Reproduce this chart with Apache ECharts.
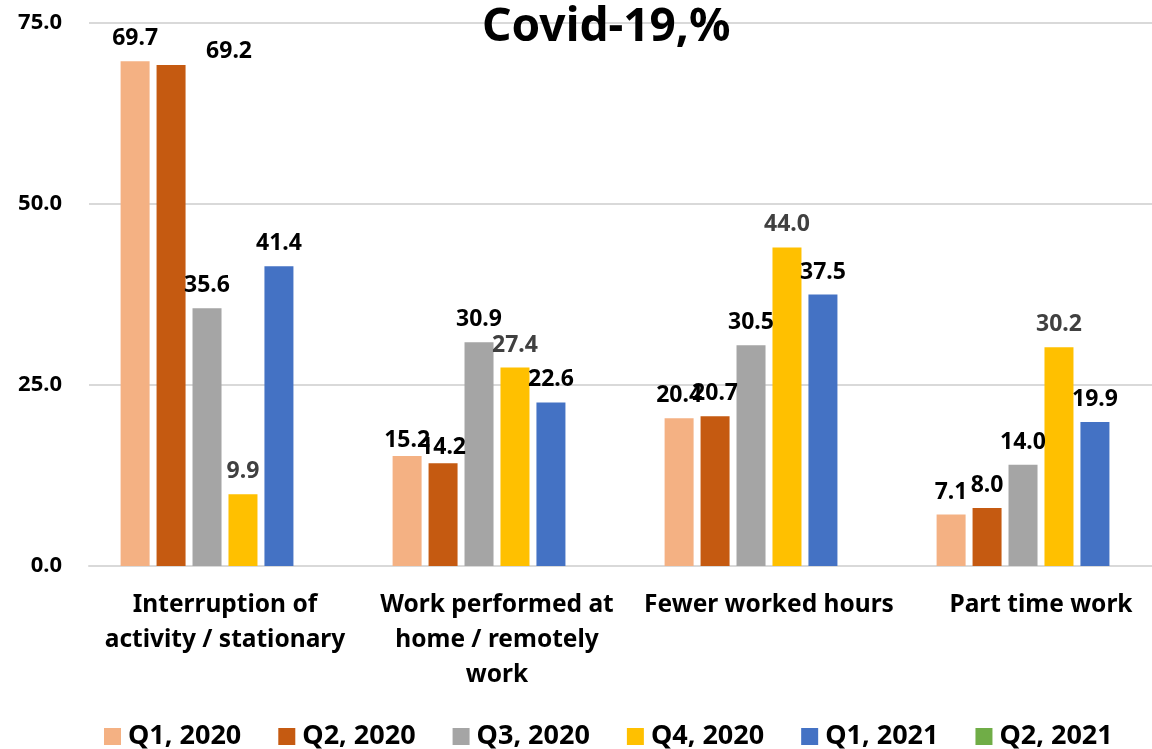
<!DOCTYPE html>
<html>
<head>
<meta charset="utf-8">
<script src="https://cdn.jsdelivr.net/npm/echarts@6/dist/echarts.min.js"></script>
<style>
  html, body { margin: 0; padding: 0; background: #fff; }
  #chart { width: 1152px; height: 749px; }
</style>
</head>
<body>
<div id="chart"></div>
<script>
// categories and series values
const categories = [
  "Interruption of\nactivity / stationary",
  "Work performed at\nhome / remotely\nwork",
  "Fewer worked hours",
  "Part time work"
];
const seriesNames = ["Q1, 2020", "Q2, 2020", "Q3, 2020", "Q4, 2020", "Q1, 2021", "Q2, 2021"];
const q1_2020 = [69.7, 15.2, 20.4, 7.1];
const q2_2020 = [69.2, 14.2, 20.7, 8.0];
const q3_2020 = [35.6, 30.9, 30.5, 14.0];
const q4_2020 = [9.9, 27.4, 44.0, 30.2];
const q1_2021 = [41.4, 22.6, 37.5, 19.9];
const q2_2021 = ["-", "-", "-", "-"]; // in the legend, no bars drawn
const yTicks = [0, 25, 50, 75];

const colors = ["#F4B183", "#C55A11", "#A5A5A5", "#FFC000", "#4472C4", "#70AD47"];
const labelColors = ["#000", "#000", "#000", "#404040", "#000", "#000"];
const FONT = "Noto Sans";

// some labels were moved by hand in the original
const labelOffsets = {
  "1-0": [58, 9],
  "0-1": [0, 7],
  "1-1": [0, 7]
};

const allValues = [q1_2020, q2_2020, q3_2020, q4_2020, q1_2021, q2_2021];

var myChart = echarts.init(document.getElementById("chart"));

const series = allValues.map((vals, si) => ({
  name: seriesNames[si],
  type: "bar",
  barWidth: 29,
  barGap: "24%",
  itemStyle: { color: colors[si] },
  label: {
    show: true,
    position: "top",
    distance: 11,
    color: labelColors[si],
    fontFamily: FONT,
    fontWeight: "bold",
    fontSize: 23,
    formatter: p => Number(p.value).toFixed(1)
  },
  data: vals.map((v, ci) => {
    const off = labelOffsets[si + "-" + ci];
    return off ? { value: v, label: { offset: off } } : v;
  })
}));

var option = {
  animation: false,
  title: {
    text: "Covid-19,%",
    left: 477,
    top: 0,
    textStyle: { fontFamily: FONT, fontWeight: "bold", fontSize: 46, color: "#000" }
  },
  legend: {
    data: seriesNames,
    left: 99,
    top: 718,
    icon: "rect",
    itemWidth: 17,
    itemHeight: 17,
    itemGap: 37,
    textStyle: { fontFamily: FONT, fontWeight: "bold", fontSize: 27, color: "#000", padding: [0, 0, 0, 2] }
  },
  // the original plot runs past the right edge of the picture
  grid: {
    left: 89,
    width: 1088,
    top: 23,
    bottom: 183,
    containLabel: false,
    outerBoundsMode: "none"
  },
  xAxis: {
    type: "category",
    data: categories,
    axisLine: { lineStyle: { color: "#D9D9D9", width: 2 } },
    axisTick: { show: false },
    axisLabel: {
      interval: 0,
      margin: 22,
      color: "#000",
      fontFamily: FONT,
      fontWeight: "bold",
      fontSize: 24.5,
      lineHeight: 35
    }
  },
  yAxis: {
    type: "value",
    min: yTicks[0],
    max: yTicks[yTicks.length - 1],
    interval: yTicks[1] - yTicks[0],
    axisLine: { show: false },
    axisTick: { show: false },
    splitLine: { lineStyle: { color: "#D9D9D9", width: 2 } },
    axisLabel: {
      margin: 27,
      color: "#000",
      fontFamily: FONT,
      fontWeight: "bold",
      fontSize: 22,
      formatter: v => v.toFixed(1)
    }
  },
  series: series
};

option && myChart.setOption(option);
</script>
</body>
</html>
